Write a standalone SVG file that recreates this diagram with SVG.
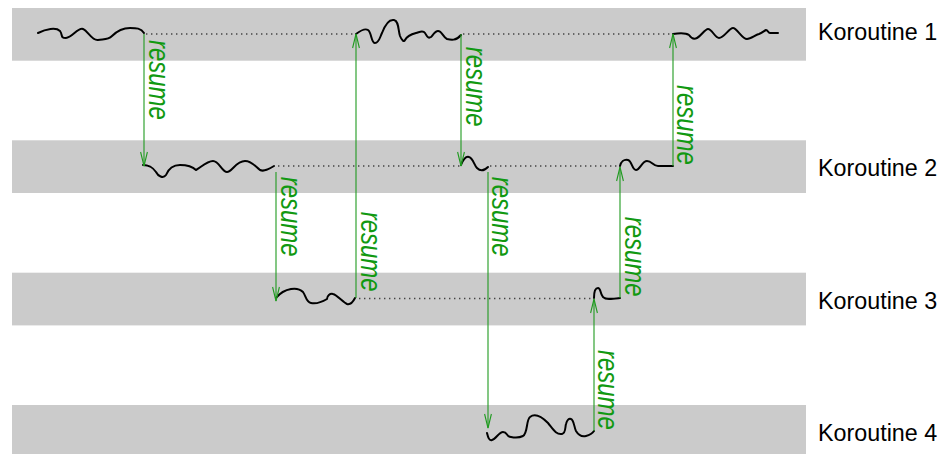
<svg xmlns="http://www.w3.org/2000/svg" width="947" height="454" viewBox="0 0 947 454">
  <style>
    .band { fill: #cbcbcb; }
    .name { font-family: "Liberation Sans", Arial, sans-serif; font-size: 23.3px; fill: #000; }
    .run { fill: none; stroke: #000; stroke-width: 2; stroke-linecap: round; stroke-linejoin: round; }
    .idle { fill: none; stroke: #444; stroke-width: 1.4; stroke-dasharray: 1.4 3.6; }
    .call { fill: none; stroke: #1f9a1f; stroke-width: 1.1; marker-end: url(#vhead); }
    .lbl { font-family: "Liberation Sans", Arial, sans-serif; font-style: italic; font-size: 29.6px; fill: #119911; }
  </style>
  <defs>
    <marker id="vhead" viewBox="-15 -5 16 10" refX="0" refY="0" markerWidth="16" markerHeight="10" markerUnits="userSpaceOnUse" orient="auto">
      <path d="M-14,-3.4 L0,0 L-14,3.4" fill="none" stroke="#1f9a1f" stroke-width="1.1"/>
    </marker>
  </defs>

  <!-- lane 1 -->
  <g id="koroutine1">
    <rect class="band" x="12" y="8" width="794" height="52.7"/>
    <text class="name" x="818" y="40">Koroutine 1</text>
    <path class="run" d="M38,33 C46,29 56,27 60,31 C63,35 60,38 66,38 C72,38 78,27 83,29 C88,31 92,41 98,40 C104,39 108,40 112,36 C117,31 124,28 130,28 C136,28 141,28 144,33"/>
    <path class="run" d="M356,34 C360,31 365,28 368,30 C372,33 371,43 375,43 C379,43 380,37 382,33 C385,25 389,19 394,20 C399,21 398,30 400,36 C402,41 404,42 405,40 C407,36 412,34 416,33 C420,32 423,30 425,33 C427,36 428,39 431,37 C433,35 435,31 438,31 C442,31 443,37 447,39 C451,40 456,41 461,35"/>
    <path class="run" d="M673,34 C680,33 686,33 689,35 C691,38 693,40 697,38 C701,36 705,29 708,29 C712,29 715,38 719,38 C724,38 729,28 733,28 C737,28 742,39 747,39 C751,39 755,35 759,34 C762,33 764,31 766,30 C768,30 768,33 770,33 L778,33"/>
  </g>

  <!-- lane 2 -->
  <g id="koroutine2">
    <rect class="band" x="12" y="140.3" width="794" height="52.7"/>
    <text class="name" x="818" y="176">Koroutine 2</text>
    <path class="run" d="M143,165 C150,165 153,168 156,172 C158,176 163,179 166,175 C168,170 172,165 180,165 C186,165 192,166 196,170 C200,168 207,161 213,161 C219,161 222,172 227,172 C232,172 236,161 245,161 C252,161 256,167 260,170 C264,172 269,169 274,166"/>
    <path class="run" d="M461,165 C463,160 466,156 469,157 C473,158 474,165 477,168 C480,171 484,171 488,167"/>
    <path class="run" d="M620,166 C621,162 624,159 628,160 C632,161 632,170 636,170 C640,170 642,161 647,161 C652,161 653,166 658,166 L673,166"/>
  </g>

  <!-- lane 3 -->
  <g id="koroutine3">
    <rect class="band" x="12" y="272.7" width="794" height="52.7"/>
    <text class="name" x="818" y="308.5">Koroutine 3</text>
    <path class="run" d="M276,298 C280,293 285,290 291,289 C297,288 300,289 303,292 C306,296 306,302 311,303 C316,304 322,302 327,299 C327,296 330,293 333,294 C337,295 343,302 347,304 C351,305 353,302 355,298"/>
    <path class="run" d="M594,298 C594,293 595,288 598,288 C601,288 600,294 603,297 C606,300 612,299 620,298"/>
  </g>

  <!-- lane 4 -->
  <g id="koroutine4">
    <rect class="band" x="12" y="405" width="794" height="52.7"/>
    <text class="name" x="818" y="441">Koroutine 4</text>
    <path class="run" d="M487,433 C488,437 489,441 492,440 C496,439 499,432 503,432 C508,432 506,437 511,437 C516,438 519,438 523,436 C528,433 526,420 530,417 C535,413 542,417 548,423 C553,429 556,435 562,434 C566,433 565,427 566,424 C567,420 569,418 571,419 C574,420 574,427 576,431 C579,436 582,437 586,436 C590,435 592,434 594,431"/>
  </g>

  <!-- suspended stretches and resume hand-offs -->
  <g id="connectors">
    <path class="idle" d="M146,34 H356"/>
    <path class="idle" d="M463,34 H673"/>
    <path class="idle" d="M278,166 H461"/>
    <path class="idle" d="M490,166 H620"/>
    <path class="idle" d="M359,298.5 H594"/>

    <path class="call" d="M144,34 V166"/>
    <path class="call" d="M356,298 V34"/>
    <path class="call" d="M461,34 V166"/>
    <path class="call" d="M673,166 V34"/>
    <path class="call" d="M276,172 V301"/>
    <path class="call" d="M488,172 V428"/>
    <path class="call" d="M620,298 V167"/>
    <path class="call" d="M594,431 V299"/>

    <text class="lbl" transform="translate(148.5,40) rotate(90) scale(0.81,1)">resume</text>
    <text class="lbl" transform="translate(360.5,211.7) rotate(90) scale(0.81,1)">resume</text>
    <text class="lbl" transform="translate(465.5,46.7) rotate(90) scale(0.81,1)">resume</text>
    <text class="lbl" transform="translate(677,85) rotate(90) scale(0.81,1)">resume</text>
    <text class="lbl" transform="translate(280.5,176.7) rotate(90) scale(0.81,1)">resume</text>
    <text class="lbl" transform="translate(492,176.7) rotate(90) scale(0.81,1)">resume</text>
    <text class="lbl" transform="translate(624.5,216.7) rotate(90) scale(0.81,1)">resume</text>
    <text class="lbl" transform="translate(598,350) rotate(90) scale(0.81,1)">resume</text>
  </g>
</svg>
